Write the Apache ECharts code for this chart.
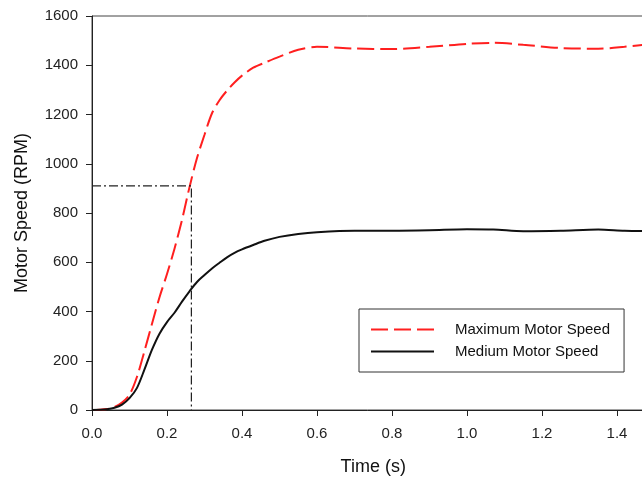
<!DOCTYPE html>
<html>
<head>
<meta charset="utf-8">
<script src="https://cdn.jsdelivr.net/npm/echarts@6/dist/echarts.min.js"></script>
<style>
  html, body { margin: 0; padding: 0; background: #fff; }
  #motorChart { width: 642px; height: 482px; }
</style>
</head>
<body>
<div id="motorChart"></div>
<script>
// time samples (s)
var timeSec = [0, 0.02, 0.04, 0.06, 0.08, 0.1, 0.12, 0.14, 0.16, 0.18, 0.2, 0.22, 0.24, 0.26, 0.28, 0.3,
  0.32, 0.34, 0.36, 0.38, 0.4, 0.43, 0.46, 0.5, 0.55, 0.6, 0.7, 0.8, 0.9, 1.0, 1.07, 1.15, 1.25, 1.35, 1.42, 1.5];
// speeds (RPM)
var maxSpeed = [0, 1, 4, 12, 30, 62, 135, 240, 350, 458, 552, 655, 772, 905, 1023, 1118,
  1205, 1258, 1297, 1330, 1358, 1390, 1410, 1435, 1463, 1475, 1468, 1466, 1475, 1487, 1491, 1483, 1470, 1467, 1475, 1488];
var medSpeed = [0, 1, 3, 9, 22, 48, 90, 165, 245, 310, 357, 395, 440, 482, 520, 548,
  575, 598, 620, 638, 652, 670, 687, 703, 715, 722, 728, 728, 730, 734, 733, 726, 728, 733, 728, 726];
// dash-dot marker at 0.265 s / 910 RPM
var refTime = 0.265;
var refSpeed = 910;
var xTicks = [0, 1.5, 0.2];
var yTicks = [0, 1600, 200];

function pairs(vals) {
  return timeSec.map(function (t, i) { return [t, vals[i]]; });
}

var chart = echarts.init(document.getElementById('motorChart'));
var font = 'Liberation Sans, Arial, sans-serif';

chart.setOption({
  animation: false,
  backgroundColor: '#fff',
  grid: {
    left: 92, top: 16, width: 562.5, height: 394,
    outerBoundsMode: 'none', containLabel: false,
    show: true, borderColor: '#444', borderWidth: 1
  },
  legend: {
    data: ['Maximum Motor Speed', 'Medium Motor Speed'],
    orient: 'vertical',
    left: 359, top: 309,
    padding: [13, 14, 13, 11],
    itemWidth: 63, itemHeight: 14, itemGap: 7,
    itemStyle: { opacity: 0 },
    borderColor: '#333', borderWidth: 1,
    textStyle: { fontFamily: font, fontSize: 15, color: '#111', padding: [0, 0, 0, 16] }
  },
  xAxis: {
    type: 'value',
    min: xTicks[0], max: xTicks[1], interval: xTicks[2],
    name: 'Time (s)', nameLocation: 'middle', nameGap: 48,
    nameTextStyle: { fontFamily: font, fontSize: 18, color: '#111' },
    axisLine: { lineStyle: { color: '#222', width: 1 } },
    axisTick: { inside: false, length: 6, lineStyle: { color: '#222' } },
    axisLabel: { fontFamily: font, fontSize: 15, color: '#222', margin: 16, showMaxLabel: false,
      formatter: function (v) { return v.toFixed(1); } },
    splitLine: { show: false }
  },
  yAxis: {
    type: 'value',
    min: yTicks[0], max: yTicks[1], interval: yTicks[2],
    name: 'Motor Speed (RPM)', nameLocation: 'middle', nameGap: 61,
    nameTextStyle: { fontFamily: font, fontSize: 18, color: '#111' },
    axisLine: { show: true, lineStyle: { color: '#222', width: 1 } },
    axisTick: { show: true, inside: false, length: 6, lineStyle: { color: '#222' } },
    axisLabel: { fontFamily: font, fontSize: 15, color: '#222', margin: 14,
      formatter: function (v) { return String(v); } },
    splitLine: { show: false }
  },
  series: [
    {
      name: 'Maximum Motor Speed',
      type: 'line',
      data: pairs(maxSpeed),
      smooth: 0.3,
      symbol: 'none',
      lineStyle: { color: '#ff1f1f', width: 2, type: [17, 6] },
      itemStyle: { color: '#ff1f1f' }
    },
    {
      name: 'Medium Motor Speed',
      type: 'line',
      data: pairs(medSpeed),
      smooth: 0.3,
      symbol: 'none',
      lineStyle: { color: '#111', width: 2 },
      itemStyle: { color: '#111' }
    },
    {
      name: 'ref',
      type: 'line',
      data: [[0, refSpeed], [refTime, refSpeed], [refTime, 0]],
      symbol: 'none',
      silent: true,
      lineStyle: { color: '#222', width: 1.2, type: [9, 3, 2, 3] }
    }
  ]
});
</script>
</body>
</html>
